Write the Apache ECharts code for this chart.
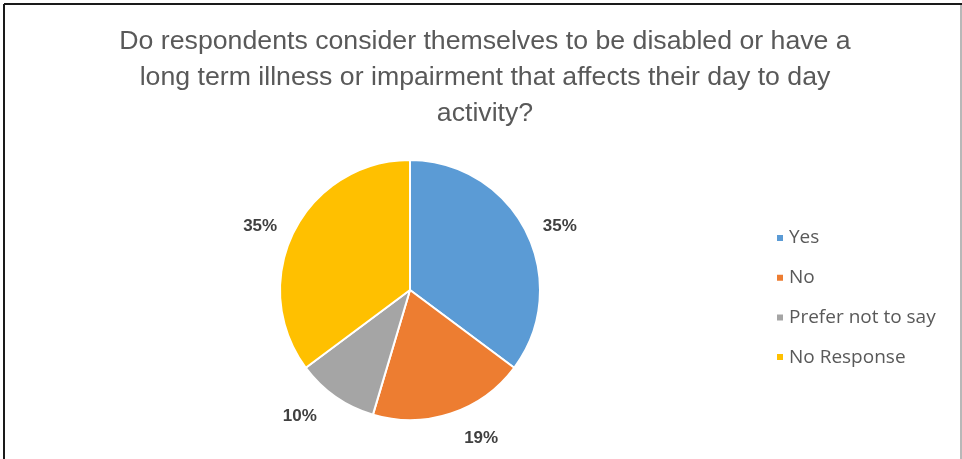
<!DOCTYPE html>
<html>
<head>
<meta charset="utf-8">
<script src="https://cdn.jsdelivr.net/npm/echarts@6/dist/echarts.min.js"></script>
<style>
  html, body { margin: 0; padding: 0; background: #fff; }
  #chart { width: 962px; height: 459px; }
</style>
</head>
<body>
<div id="chart"></div>
<script>
// answers and their share (%)
var categories = ['Yes', 'No', 'Prefer not to say', 'No Response'];
var shares = [35.2, 19.4, 10.2, 35.2];
var colours = ['#5B9BD5', '#ED7D31', '#A5A5A5', '#FFC000'];

var titleText = 'Do respondents consider themselves to be disabled or have a\n' +
  'long term illness or impairment that affects their day to day\n' +
  'activity?';

var myChart = echarts.init(document.getElementById('chart'));

// bottom labels sit a little further out in the original
var extraOut = { 'No': 10, 'Prefer not to say': 8 };

var pieData = categories.map(function (name, i) {
  var item = { name: name, value: shares[i], itemStyle: { color: colours[i] } };
  if (extraOut[name]) item.labelLine = { length: 16 + extraOut[name] };
  // the slice pointing almost straight down gets a centred label
  if (name === 'No') item.label = { align: 'center' };
  return item;
});

myChart.setOption({
  backgroundColor: '#fff',
  animation: false,
  title: {
    text: titleText,
    left: 485,
    top: 24,
    padding: 0,
    textAlign: 'center',
    textStyle: {
      fontFamily: 'Liberation Sans',
      fontWeight: 'normal',
      fontSize: 26.7,
      lineHeight: 36,
      color: '#595959'
    }
  },
  legend: {
    orient: 'vertical',
    left: 770,
    top: 223,
    icon: 'rect',
    itemWidth: 8,
    itemHeight: 8,
    itemGap: 19.7,
    textStyle: {
      fontFamily: 'Open Sans',
      fontSize: 19,
      lineHeight: 20,
      color: '#595959'
    },
    data: categories
  },
  series: [{
    type: 'pie',
    center: [410, 290],
    radius: 130,
    startAngle: 90,
    clockwise: true,
    itemStyle: { borderColor: '#fff', borderWidth: 2 },
    label: {
      show: true,
      position: 'outside',
      formatter: function (p) { return Math.round(p.value) + '%'; },
      fontFamily: 'Liberation Sans',
      fontWeight: 'bold',
      fontSize: 17,
      color: '#404040'
    },
    labelLine: { show: false, length: 13, length2: 0 },
    emphasis: { disabled: true },
    data: pieData
  }],
  // frame round the chart like the original screenshot
  graphic: [
    { type: 'line', shape: { x1: 4, y1: 4, x2: 962, y2: 4 }, style: { stroke: '#1a1a1a', lineWidth: 2 } },
    { type: 'line', shape: { x1: 4, y1: 4, x2: 4, y2: 459 }, style: { stroke: '#1a1a1a', lineWidth: 2 } },
    { type: 'line', shape: { x1: 961, y1: 5, x2: 961, y2: 459 }, style: { stroke: '#a0a0a0', lineWidth: 1.5 } }
  ]
});
</script>
</body>
</html>
